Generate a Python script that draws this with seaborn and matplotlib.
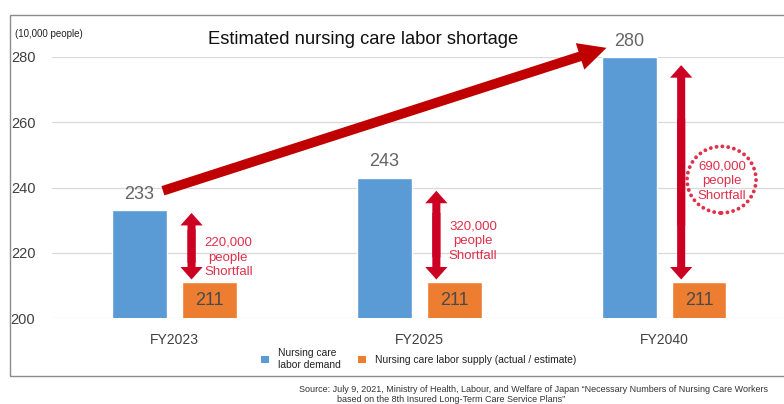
import matplotlib
matplotlib.use("Agg")
import matplotlib.pyplot as plt
from matplotlib.patches import FancyArrowPatch, Ellipse, Rectangle, Patch
import numpy as np
import pandas as pd
import seaborn as sns

# Data (unit: 10,000 people)
years = ["FY2023", "FY2025", "FY2040"]
demand = [233, 243, 280]
supply = [211, 211, 211]
series_names = ["Nursing care\nlabor demand", "Nursing care labor supply (actual / estimate)"]
y_ticks = [200, 220, 240, 260, 280]

BLUE = "#5B9BD5"
ORANGE = "#ED7D31"
DARK_RED = "#C00000"
ARROW_RED = "#CC0022"
TEXT_RED = "#E0304A"
FONT = ["Liberation Sans", "DejaVu Sans"]

df = pd.DataFrame({
    "year": years * 2,
    "series": [series_names[0]] * len(years) + [series_names[1]] * len(years),
    "value": demand + supply,
})

sns.set_style("white")
plt.rcParams["font.family"] = FONT

fig = plt.figure(figsize=(7.84, 4.04), dpi=100)
W, H = 784, 404

# outer frame
fig.patches.append(Rectangle((10 / W, 1 - 376 / H), 1.0, (376 - 15) / H,
                             transform=fig.transFigure, fill=False,
                             edgecolor="#8c8c8c", linewidth=1.0))

ax = fig.add_axes([52 / W, 1 - 318 / H, (W - 52) / W, (318 - 57) / H])

sns.barplot(data=df, x="year", y="value", hue="series",
            palette=[BLUE, ORANGE], width=0.571, gap=0.214,
            saturation=1, ax=ax, legend=False, zorder=3)

ax.set_ylim(200, 280)
ax.set_xlim(-0.5, 2.49)
ax.set_yticks(y_ticks)
ax.yaxis.grid(True, color="#D9D9D9", linewidth=0.9, zorder=0)
ax.set_axisbelow(True)
for s in ax.spines.values():
    s.set_visible(False)
ax.set_xlabel("")
ax.set_ylabel("")
ax.tick_params(axis="y", length=0, pad=12, labelsize=10.5, labelcolor="#404040")
ax.tick_params(axis="x", length=0, pad=11, labelsize=10, labelcolor="#404040")

off = 0.143
for i, (d, s) in enumerate(zip(demand, supply)):
    # value labels
    ax.annotate(f"{d}", (i - off, d), xytext=(0, 11.5), textcoords="offset points",
                ha="center", va="center", fontsize=13, color="#666666")
    ax.text(i + off, (200 + s) / 2, f"{s}", ha="center", va="center",
            fontsize=13, color="#4a4a4a", zorder=5)

# double-headed shortfall arrows (two overlapping single-headed arrows)
arrow_gap = [0.8, 4.0, 2.5]
style = "simple,head_width=1.6,head_length=0.9,tail_width=0.58"
for i, (d, s) in enumerate(zip(demand, supply)):
    x = i + 0.07
    top, bot = d - arrow_gap[i], s + 0.8
    span = top - bot
    for start, end in ((bot + 0.25 * span, top), (top - 0.25 * span, bot)):
        ax.add_patch(FancyArrowPatch((x, start), (x, end), arrowstyle=style,
                                     mutation_scale=10, color=ARROW_RED,
                                     linewidth=0, shrinkA=0, shrinkB=0,
                                     clip_on=False, zorder=6))
    gap = d - s
    ty = (d + s) / 2 - 3.5
    tx = i + 0.22 if i < 2 else i + 0.237
    ax.text(tx, ty, f"{gap * 10000:,}\npeople\nShortfall", ha="center",
            va="center", fontsize=9.5, color=TEXT_RED, linespacing=1.3,
            zorder=7)
    if i == 2:
        e = Ellipse((tx - 0.002, ty + 0.4), 0.282, 20.4, fill=False,
                    edgecolor=TEXT_RED, linewidth=2.8, linestyle=(0, (0.01, 1.5)),
                    clip_on=False, zorder=7)
        e.set_capstyle("round")
        ax.add_patch(e)

# growth arrow from FY2023 demand toward FY2040 demand
ax.add_patch(FancyArrowPatch((-0.047, 239.0), (1.765, 282.8),
                             arrowstyle="simple,head_width=2.0,head_length=2.0,tail_width=0.7",
                             mutation_scale=10, color=DARK_RED, linewidth=0,
                             shrinkA=0, shrinkB=0, clip_on=False, zorder=8))

# titles and notes
fig.text(208 / W, 1 - 39 / H, "Estimated nursing care labor shortage",
         fontsize=13.2, color="#111111", va="center", ha="left")
fig.text(15 / W, 1 - 34 / H, "(10,000 people)", fontsize=7,
         color="#222222", va="center", ha="left")

handles = [Patch(facecolor=BLUE, edgecolor="none"),
           Patch(facecolor=ORANGE, edgecolor="none")]
fig.legend(handles, series_names, loc="center", bbox_to_anchor=(419 / W, 1 - 359 / H),
           ncol=2, frameon=False, fontsize=7.4, handlelength=0.75, handleheight=0.75,
           handletextpad=0.9, columnspacing=1.7, labelcolor="#222222")

fig.text(299 / W, 1 - 390 / H,
         "Source: July 9, 2021, Ministry of Health, Labour, and Welfare of Japan "
         "\u201cNecessary Numbers of Nursing Care Workers",
         fontsize=6.5, color="#333333", va="center", ha="left")
fig.text(337 / W, 1 - 400 / H,
         "based on the 8th Insured Long-Term Care Service Plans\u201d",
         fontsize=6.5, color="#333333", va="center", ha="left")

fig.savefig("out.png", dpi=100)
